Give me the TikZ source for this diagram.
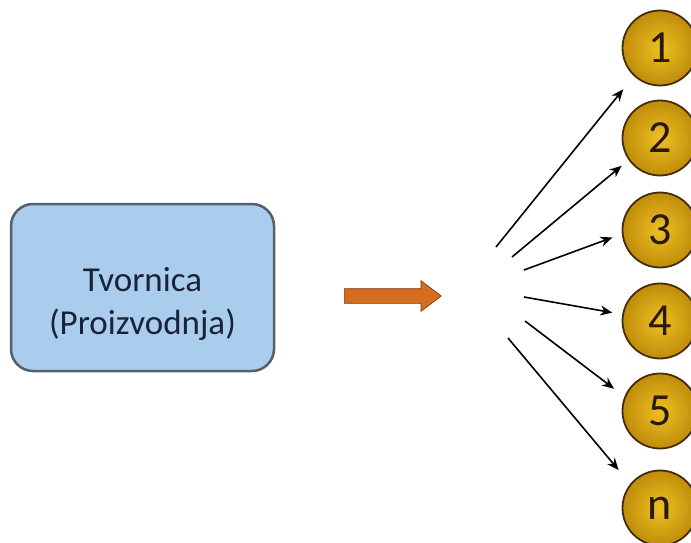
\documentclass[tikz,border=0pt]{standalone}
\usepackage{fontspec}
\setmainfont{Carlito}
\usetikzlibrary{arrows, arrows.meta, positioning, shapes.arrows}

\definecolor{boxblue}{RGB}{170,205,238}
\definecolor{boxedge}{RGB}{85,95,105}
\definecolor{textnavy}{RGB}{25,35,55}
\definecolor{goldedge}{RGB}{70,45,10}
\definecolor{flowor}{RGB}{214,108,30}

\begin{document}
\begin{tikzpicture}[
	x=1pt, y=-1pt,
	factory/.style = {draw=boxedge, line width=2.5pt, fill=boxblue, rounded corners=22pt,
		minimum width=263pt, minimum height=167pt},
	caption/.style = {align=center, text=textnavy, font=\fontsize{35}{43}\selectfont},
	outlet/.style = {circle, draw=goldedge, line width=1.8pt, inner color={rgb,255:red,238;green,192;blue,35},
		outer color={rgb,255:red,192;green,140;blue,10}, minimum size=75pt, inner sep=0pt,
		text={rgb,255:red,40;green,25;blue,8}, font=\fontsize{46}{46}\selectfont},
	conn/.style = {-{Stealth[length=12pt, width=10pt]}, line width=1.6pt}
]
\useasboundingbox (0,0) rectangle (691,542);

\node[factory] (factory) at (142.5,287.5) {};
\node[caption] (factory text) at (142.5,304) {Tvornica\\(Proizvodnja)};

\node[single arrow, fill=flowor, draw={rgb,255:red,120;green,55;blue,15}, line width=0.6pt,
	minimum height=97pt, inner xsep=0pt, inner ysep=7pt, single arrow head extend=8pt,
	single arrow tip angle=74] (flow) at (388,296) {};

% outlets on the right
\foreach \i/\y in {1/48, 2/138, 3/230, 4/321, 5/411, n/508} {
	\node[outlet] (c\i) at (660,\y) {\i};
}

% free ends of the fan
\coordinate (s1) at (496,247);
\coordinate (s2) at (512,257);
\coordinate (s3) at (524,270);
\coordinate (s4) at (524,297);
\coordinate (s5) at (525,321);
\coordinate (sn) at (508,338);

\foreach \i/\a/\g in {1/227/17pt, 2/215/9pt, 3/186/10pt, 4/170/10pt, 5/158/13pt, n/141/18pt} {
	\draw[conn, shorten >=\g] (s\i) -- (c\i.\a);
}

\end{tikzpicture}
\end{document}
